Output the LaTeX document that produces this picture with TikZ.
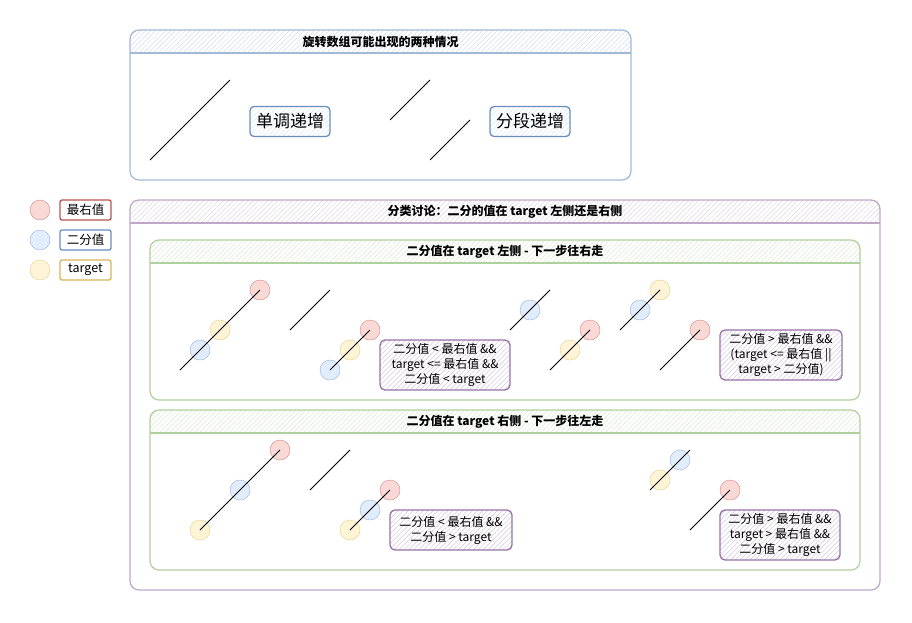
\documentclass[tikz,border=0pt]{standalone}
\usepackage{fontspec}
\setmainfont{Noto Sans CJK SC}
\usetikzlibrary{patterns.meta}
\definecolor{blueS}{HTML}{6C8EBF}\definecolor{blueF}{HTML}{DAE8FC}
\definecolor{redS}{HTML}{B85450}\definecolor{redF}{HTML}{F8CECC}
\definecolor{yelS}{HTML}{D6B656}\definecolor{yelF}{HTML}{FFF2CC}
\definecolor{grnS}{HTML}{82B366}\definecolor{grnF}{HTML}{D5E8D4}
\definecolor{purS}{HTML}{9673A6}\definecolor{purF}{HTML}{E1D5E7}
\begin{document}
\begin{tikzpicture}[x=1pt,y=-1pt,
  hatch/.style={pattern={Lines[angle=45,distance=3.5pt,line width=.5pt]},pattern color=#1},
  txt/.style={font=\fontsize{12}{15}\selectfont,align=center,inner sep=0pt},
  dotr/.style={circle,minimum size=20,inner sep=0pt,draw=redS!70,fill=redF!80},
  dotb/.style={circle,minimum size=20,inner sep=0pt,draw=blueS!70,fill=blueF!80},
  doty/.style={circle,minimum size=20,inner sep=0pt,draw=yelS!70,fill=yelF!80},
  tag/.style={txt,font=\fontsize{12.5}{15}\selectfont,draw=#1,line width=1.3pt,rounded corners=2,fill=white,minimum width=51,minimum height=20},
  cond/.style={txt,draw=purS,line width=1.3pt,rounded corners=5,hatch=purF!85!purS},
  kind/.style={txt,font=\fontsize{17}{19}\selectfont,draw=blueS,line width=1.3pt,rounded corners=4,hatch=blueF,minimum width=80,minimum height=30}]
\useasboundingbox (0,0) rectangle (912,622);
% containers
\foreach \x/\y/\X/\Y/\c/\t [count=\i] in {
  130/30/631/180/blueS/{旋转数组可能出现的两种情况},
  130/200/880/590/purS/{分类讨论：二分的值在 target 左侧还是右侧},
  150/240/860/400/grnS/{二分值在 target 左侧 - 下一步往右走},
  150/410/860/570/grnS/{二分值在 target 右侧 - 下一步往左走}}{
  \fill[white,rounded corners=9] (\x,\y) rectangle (\X,\Y);
  \begin{scope}
    \clip (\x,\y) rectangle (\X,\y+23);
    \fill[hatch=\c!30,rounded corners=9] (\x,\y) rectangle (\X,\Y);
  \end{scope}
  \draw[\c!62,line width=1.2pt,rounded corners=9] (\x,\y) rectangle (\X,\Y);
  \draw[\c!62,line width=1.2pt] (\x,\y+23)--(\X,\y+23);
  \node[txt,font=\fontsize{12}{14}\selectfont\bfseries] (h\i) at ({(\x+\X)/2},\y+12) {\t};
}
% legend
\node[dotr] (lr) at (40,210) {};
\node[dotb] (lb) at (40,240) {};
\node[doty] (ly) at (40,270) {};
\node[tag=redS] (tr) at (85.5,210) {最右值};
\node[tag=blueS] (tb) at (85.5,240) {二分值};
\node[tag=yelS] (ty) at (85.5,270) {target};
% two cases
\node[kind] (mono) at (290,121.5) {单调递增};
\node[kind] (piece) at (530,121.5) {分段递增};
% points
\foreach \s/\x/\y [count=\i] in {r/260/290,y/220/330,b/200/350,r/370/330,y/350/350,b/330/370,
  b/530/310,r/590/330,y/570/350,y/660/290,b/640/310,r/700/330,
  r/280/450,b/240/490,y/200/530,r/390/490,b/370/510,y/350/530,b/680/460,y/660/480,r/730/490}{
  \node[dot\s] (p\i) at (\x,\y) {};}
% arrays
\foreach \x/\y/\l in {150/160/80,390/120/40,430/160/40,
  180/370/80,290/330/40,330/370/40,510/330/40,550/370/40,620/330/40,660/370/40,
  200/530/80,310/490/40,350/530/40,650/490/40,690/530/40}{
  \draw[line width=.8pt](\x,\y)--++(\l,-\l);}
% conditions
\node[cond,minimum width=130,minimum height=50] (c1) at (445,365) {二分值 < 最右值 \&\&\\target <= 最右值 \&\&\\二分值 < target};
\node[cond,minimum width=122,minimum height=50] (c2) at (781,355) {二分值 > 最右值 \&\&\\(target <= 最右值 ||\\target > 二分值)};
\node[cond,minimum width=122,minimum height=40] (c3) at (451,530) {二分值 < 最右值 \&\&\\二分值 > target};
\node[cond,minimum width=120,minimum height=50] (c4) at (780,535) {二分值 > 最右值 \&\&\\target > 最右值 \&\&\\二分值 > target};
\end{tikzpicture}
\end{document}
